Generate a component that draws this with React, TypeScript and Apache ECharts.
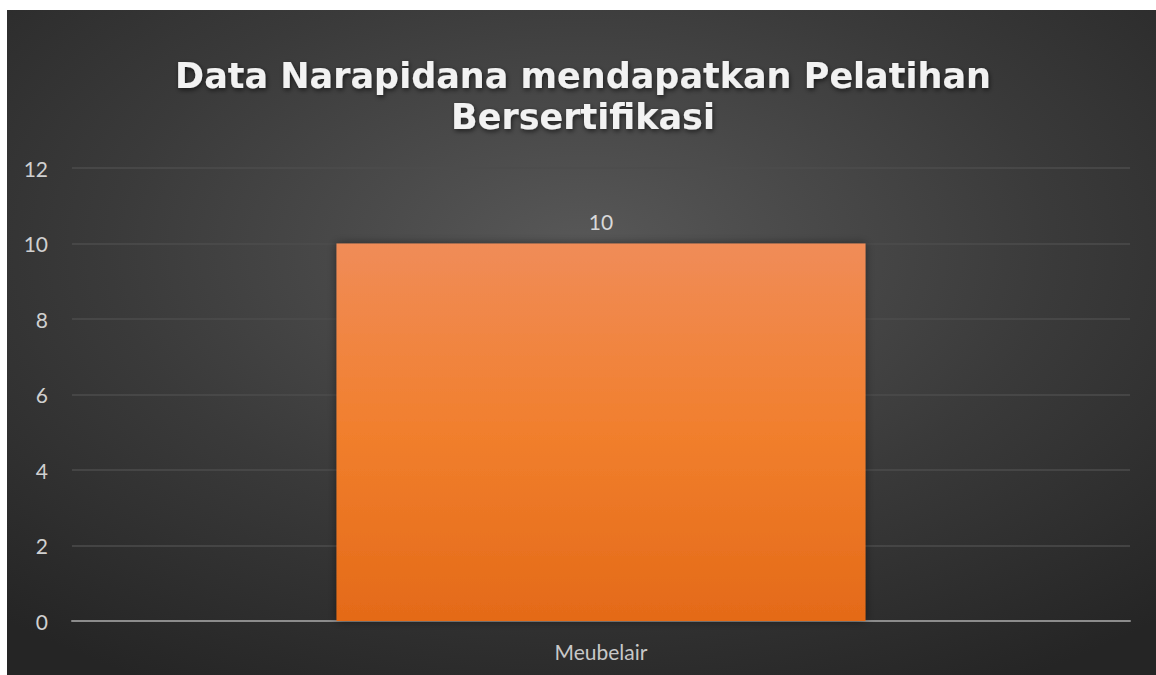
import React, { useEffect, useRef } from "react";
import * as echarts from "echarts";

const titleLines = ["Data Narapidana mendapatkan Pelatihan", "Bersertifikasi"];
const categories = ["Meubelair"];
const values = [10];
const yMin = 0;
const yMax = 12;
const yInterval = 2;

export default function App() {
  const ref = useRef<HTMLDivElement>(null);
  useEffect(() => {
    if (!ref.current) return;
    const chart = echarts.init(ref.current, undefined, { renderer: "svg" });
    chart.setOption({
      animation: false,
      backgroundColor: {
        type: "radial",
        x: 0.5,
        y: 0.36,
        r: 0.75,
        colorStops: [
          { offset: 0, color: "#585858" },
          { offset: 0.55, color: "#3a3a3a" },
          { offset: 1, color: "#252525" },
        ],
      },
      graphic: [
        {
          type: "text",
          x: 576,
          y: 86,
          style: {
            text: titleLines.join("\n"),
            fontFamily: "DejaVu Sans",
            fontWeight: "bold",
            fontSize: 35,
            lineHeight: 41,
            fill: "#f2f2f2",
            textAlign: "center",
            textVerticalAlign: "middle",
            textShadowColor: "rgba(0,0,0,0.6)",
            textShadowBlur: 5,
            textShadowOffsetX: 1,
            textShadowOffsetY: 2,
          },
        },
      ],
      grid: { left: 65, right: 26, top: 158, bottom: 54, containLabel: false },
      xAxis: {
        type: "category",
        data: categories,
        axisLine: { lineStyle: { color: "#8c8c8c", width: 2 } },
        axisTick: { show: false },
        axisLabel: { color: "#c8c8c8", fontSize: 21, fontFamily: "Lato", margin: 20 },
        splitLine: { show: false },
      },
      yAxis: {
        type: "value",
        min: yMin,
        max: yMax,
        interval: yInterval,
        axisLine: { show: false },
        axisTick: { show: false },
        axisLabel: { color: "#d0d0d0", fontSize: 21, fontFamily: "Lato", margin: 24 },
        splitLine: { lineStyle: { color: "#4c4c4c", width: 1.5 } },
      },
      series: [
        {
          type: "bar",
          data: values,
          barWidth: "50%",
          itemStyle: {
            color: {
              type: "linear",
              x: 0,
              y: 0,
              x2: 0,
              y2: 1,
              colorStops: [
                { offset: 0, color: "#f08c58" },
                { offset: 0.5, color: "#f17f2d" },
                { offset: 1, color: "#e46a18" },
              ],
            },
            shadowBlur: 10,
            shadowColor: "rgba(0,0,0,0.45)",
          },
          label: {
            show: true,
            position: "top",
            distance: 12,
            color: "#d9d9d9",
            fontSize: 21,
            fontFamily: "Lato",
          },
        },
      ],
    });
    return () => chart.dispose();
  }, []);
  return (
    <div
      ref={ref}
      style={{ position: "absolute", left: 7, top: 10, width: 1149, height: 665 }}
    />
  );
}
